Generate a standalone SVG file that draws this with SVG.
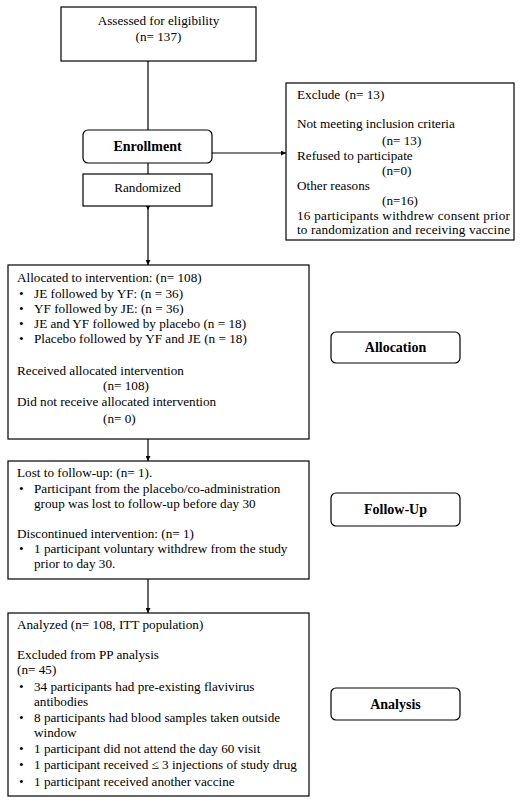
<svg xmlns="http://www.w3.org/2000/svg" width="525" height="805" viewBox="0 0 525 805">
<style>
  text { font-family: "Liberation Serif", "Times New Roman", serif; font-size: 13.2px; fill: #000; }
  .b { font-weight: bold; font-size: 14px; }
  .c { text-anchor: middle; }
  .box { fill: #fff; stroke: #000; stroke-width: 1.2; }
  .ln { stroke: #000; stroke-width: 1.2; fill: none; }
</style>
<defs>
  <marker id="ah" viewBox="0 0 10 10" refX="10" refY="5" markerWidth="5" markerHeight="5" markerUnits="userSpaceOnUse" orient="auto">
    <path d="M0,0 L10,5 L0,10 z" fill="#000"/>
  </marker>
</defs>
<rect width="525" height="805" fill="#fff"/>
<g id="connectors">
  <line class="ln" x1="148" y1="61" x2="148" y2="130"/>
  <line class="ln" x1="148" y1="163" x2="148" y2="174"/>
  <line class="ln" x1="212" y1="153" x2="286" y2="153" marker-end="url(#ah)"/>
  <line class="ln" x1="148" y1="206" x2="148" y2="265" marker-end="url(#ah)"/>
  <polygon points="146,206 150,206 148,210" fill="#000"/>
  <line class="ln" x1="148" y1="439" x2="148" y2="461" marker-end="url(#ah)"/>
  <line class="ln" x1="148" y1="579" x2="148" y2="613" marker-end="url(#ah)"/>
</g>
<g id="assessed">
  <rect class="box" x="61" y="7" width="195" height="54"/>
  <text class="c" x="158.5" y="25">Assessed for eligibility</text>
  <text class="c" x="158.5" y="41">(n= 137)</text>
</g>
<g id="enrollment">
  <rect class="box" x="83" y="130" width="129" height="33" rx="5"/>
  <text class="b c" x="147.5" y="151">Enrollment</text>
</g>
<g id="randomized">
  <rect class="box" x="83" y="174" width="129" height="32"/>
  <text class="c" x="147.5" y="192">Randomized</text>
</g>
<g id="exclude">
  <rect class="box" x="286" y="83" width="228" height="157"/>
  <text x="297" y="99">Exclude</text>
  <text x="345" y="99">(n= 13)</text>
  <text x="297" y="128">Not meeting inclusion criteria</text>
  <text x="382" y="145">(n= 13)</text>
  <text x="297" y="160">Refused to participate</text>
  <text x="382" y="175">(n=0)</text>
  <text x="297" y="190">Other reasons</text>
  <text x="382" y="205">(n=16)</text>
  <text x="297" y="220" textLength="213" lengthAdjust="spacing">16 participants withdrew consent prior</text>
  <text x="297" y="234" textLength="213" lengthAdjust="spacing">to randomization and receiving vaccine</text>
</g>
<g id="allocated">
  <rect class="box" x="8" y="265" width="301" height="174"/>
  <text x="17" y="282">Allocated to intervention: (n= 108)</text>
  <text x="19" y="298">•</text><text x="34" y="298">JE followed by YF: (n = 36)</text>
  <text x="19" y="313">•</text><text x="34" y="313">YF followed by JE: (n = 36)</text>
  <text x="19" y="328">•</text><text x="34" y="328">JE and YF followed by placebo (n = 18)</text>
  <text x="19" y="343">•</text><text x="34" y="343">Placebo followed by YF and JE (n = 18)</text>
  <text x="17" y="375">Received allocated intervention</text>
  <text x="103" y="390">(n= 108)</text>
  <text x="17" y="406">Did not receive allocated intervention</text>
  <text x="103" y="423">(n= 0)</text>
</g>
<g id="allocation">
  <rect class="box" x="331" y="332" width="129" height="31" rx="5"/>
  <text class="b c" x="395.5" y="352">Allocation</text>
</g>
<g id="followup">
  <rect class="box" x="8" y="461" width="301" height="118"/>
  <text x="17" y="477">Lost to follow-up: (n= 1).</text>
  <text x="19" y="493">•</text><text x="34" y="493">Participant from the placebo/co-administration</text>
  <text x="34" y="508">group was lost to follow-up before day 30</text>
  <text x="17" y="538">Discontinued intervention: (n= 1)</text>
  <text x="19" y="553">•</text><text x="34" y="553">1 participant voluntary withdrew from the study</text>
  <text x="34" y="568">prior to day 30.</text>
</g>
<g id="followup-label">
  <rect class="box" x="331" y="493" width="129" height="33" rx="5"/>
  <text class="b c" x="395.5" y="514">Follow-Up</text>
</g>
<g id="analyzed">
  <rect class="box" x="8" y="613" width="301" height="183"/>
  <text x="17" y="629">Analyzed (n= 108, ITT population)</text>
  <text x="17" y="659">Excluded from PP analysis</text>
  <text x="17" y="674">(n= 45)</text>
  <text x="19" y="691">•</text><text x="34" y="691">34 participants had pre-existing flavivirus</text>
  <text x="34" y="706">antibodies</text>
  <text x="19" y="722">•</text><text x="34" y="722">8 participants had blood samples taken outside</text>
  <text x="34" y="737">window</text>
  <text x="19" y="753">•</text><text x="34" y="753">1 participant did not attend the day 60 visit</text>
  <text x="19" y="769">•</text><text x="34" y="769">1 participant received ≤ 3 injections of study drug</text>
  <text x="19" y="786">•</text><text x="34" y="786">1 participant received another vaccine</text>
</g>
<g id="analysis-label">
  <rect class="box" x="331" y="688" width="129" height="32" rx="5"/>
  <text class="b c" x="395.5" y="709">Analysis</text>
</g>
</svg>
